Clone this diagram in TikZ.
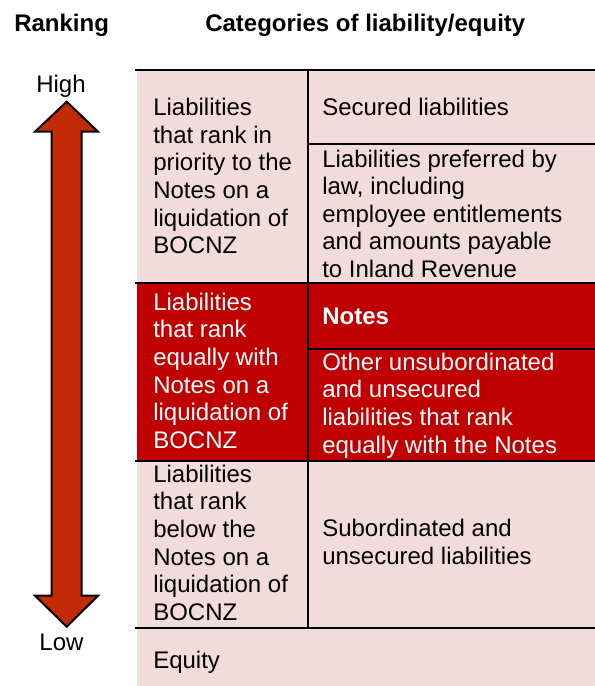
\documentclass[tikz,border=0pt]{standalone}
\usepackage{fontspec}
\setmainfont{Liberation Sans}
\usetikzlibrary{positioning}
\definecolor{cellpink}{RGB}{242,220,219}
\definecolor{cellred}{RGB}{192,0,0}
\definecolor{arrowred}{RGB}{195,42,8}

\begin{document}
\begin{tikzpicture}[x=0.75pt, y=-0.75pt]
		\tikzstyle{every node}=[font=\fontsize{18}{20.7}\selectfont, inner sep=0pt]
		\tikzstyle{cell}=[anchor=west, align=left]
		\tikzstyle{rule}=[line width=1.5pt, line cap=rect]
		\useasboundingbox (0,0) rectangle (595,686);
		% cell fills
		\fill [cellpink] (137,70) rectangle (595,686);
		\fill [cellred] (137,284) rectangle (595,461);
		% table rules
		\draw [rule] (136,70) -- (595,70);
		\draw [rule] (308,70) -- (308,628);
		\draw [rule] (308,144) -- (595,144);
		\draw [rule] (136,283) -- (595,283);
		\draw [rule] (308,349) -- (595,349);
		\draw [rule] (136,461) -- (595,461);
		\draw [rule] (136,628) -- (595,628);
		% ranking arrow
		\draw [line width=1.5pt, fill=arrowred, line join=miter] (66.7,101.7) -- (98,131.7) -- (81.7,131.7) -- (81.7,595.7) -- (98,595.7) -- (66.7,626.7) -- (35,595.7) -- (51.7,595.7) -- (51.7,131.7) -- (35,131.7) -- cycle;
		% headers
		\node [anchor=base west, font=\fontsize{18}{20.7}\selectfont\bfseries] (ranking) at (14,31) {Ranking};
		\node [anchor=base west, font=\fontsize{18}{20.7}\selectfont\bfseries] (categories) at (205,31) {Categories of liability/equity};
		\node (high) at (61,86.5) {High};
		\node (low) at (61.5,642.5) {Low};
		% left column
		\node [cell] (prior) at (153,176.2) {Liabilities\\that rank in\\priority to the\\Notes on a\\liquidation of\\BOCNZ};
		\node [cell, text=white] (equal) at (153,370.7) {Liabilities\\that rank\\equally with\\Notes on a\\liquidation of\\BOCNZ};
		\node [cell] (below) at (153,542.7) {Liabilities\\that rank\\below the\\Notes on a\\liquidation of\\BOCNZ};
		\node [cell] (equity) at (153,662.3) {Equity};
		% right column
		\node [cell] (secured) at (322,107.2) {Secured liabilities};
		\node [cell] (preferred) at (322,213.7) {Liabilities preferred by\\law, including\\employee entitlements\\and amounts payable\\to Inland Revenue};
		\node [cell, text=white, font=\fontsize{18}{20.7}\selectfont\bfseries] (notes) at (322,316.5) {Notes};
		\node [cell, text=white] (unsub) at (322,405.5) {Other unsubordinated\\and unsecured\\liabilities that rank\\equally with the Notes};
		\node [cell] (subord) at (322,542) {Subordinated and\\unsecured liabilities};
	\end{tikzpicture}
\end{document}
